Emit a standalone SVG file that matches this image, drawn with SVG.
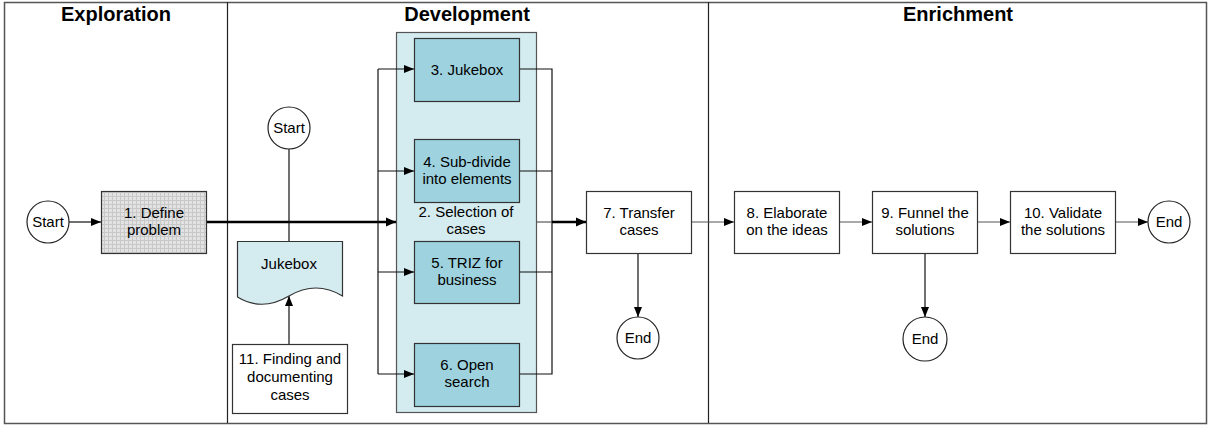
<svg xmlns="http://www.w3.org/2000/svg" width="1209" height="426" viewBox="0 0 1209 426">
<style>
text{font-family:"Liberation Sans",Arial,sans-serif;font-size:15px;fill:#000;text-anchor:middle}
.h{font-size:20px;font-weight:bold}
.box{fill:#fff;stroke:#333;stroke-width:1.2}
.in{fill:#9dd2de;stroke:#333;stroke-width:1.2}
.circ{fill:#fff;stroke:#222;stroke-width:1.2}
.c{fill:none;stroke:#111;stroke-width:1.2}
.g{fill:none;stroke:#555;stroke-width:1.2}
.t{fill:none;stroke:#000;stroke-width:2.6}
</style>
<defs>
<marker id="a" viewBox="0 0 10 10" refX="10" refY="5" markerWidth="10" markerHeight="10" markerUnits="userSpaceOnUse" orient="auto"><path d="M0,1 L10,5 L0,9 Z" fill="#000"/></marker>
<marker id="at" viewBox="0 0 10 10" refX="10" refY="5" markerWidth="10" markerHeight="10" markerUnits="userSpaceOnUse" orient="auto"><path d="M0,0.5 L10,5 L0,9.5 Z" fill="#000"/></marker>
<pattern id="grid" width="4" height="4" patternUnits="userSpaceOnUse"><rect width="4" height="4" fill="#e2e2e2"/><path d="M0,0.5 H4 M0.5,0 V4" stroke="#c8c8c8" stroke-width="1"/></pattern>
</defs>
<rect width="1209" height="426" fill="#fff"/>
<g id="lanes">
<rect x="4.5" y="2.5" width="1202" height="421" fill="none" stroke="#555" stroke-width="1.5"/>
<line x1="227.5" y1="2" x2="227.5" y2="423" stroke="#222" stroke-width="1.2"/>
<line x1="708.5" y1="2" x2="708.5" y2="423" stroke="#222" stroke-width="1.2"/>
<text class="h" x="116" y="21">Exploration</text>
<text class="h" x="467" y="21">Development</text>
<text class="h" x="958" y="21">Enrichment</text>
</g>
<g id="n2">
<rect x="396.5" y="32.5" width="140" height="380" fill="#d4ebf0" stroke="#555" stroke-width="1.2"/>
<text x="466" y="217">2. Selection of</text>
<text x="466" y="234">cases</text>
</g>
<g id="connectors">
<line class="c" x1="69" y1="222" x2="101" y2="222" marker-end="url(#a)"/>
<line class="t" x1="206" y1="222" x2="396" y2="222" marker-end="url(#at)"/>
<line class="c" x1="289" y1="149" x2="289" y2="241"/>
<line class="c" x1="289" y1="344" x2="289" y2="296" marker-end="url(#a)"/>
<path class="c" d="M378,69 V374"/>
<line class="c" x1="378" y1="69" x2="414" y2="69" marker-end="url(#a)"/>
<line class="c" x1="378" y1="171" x2="414" y2="171" marker-end="url(#a)"/>
<line class="c" x1="378" y1="272" x2="414" y2="272" marker-end="url(#a)"/>
<line class="c" x1="378" y1="374" x2="414" y2="374" marker-end="url(#a)"/>
<path class="c" d="M519,69 H552 V374 H519 M519,171 H552 M519,272 H552"/>
<line class="g" x1="536" y1="222" x2="552" y2="222"/>
<line class="t" x1="552" y1="222" x2="586" y2="222" marker-end="url(#at)"/>
<line class="c" x1="638" y1="253" x2="638" y2="317" marker-end="url(#a)"/>
<line class="g" x1="691" y1="222" x2="734" y2="222" marker-end="url(#a)"/>
<line class="g" x1="839" y1="222" x2="872" y2="222" marker-end="url(#a)"/>
<line class="g" x1="977" y1="222" x2="1010" y2="222" marker-end="url(#a)"/>
<line class="g" x1="1115" y1="222" x2="1148" y2="222" marker-end="url(#a)"/>
<line class="c" x1="925" y1="253" x2="925" y2="317" marker-end="url(#a)"/>
</g>
<g id="start1"><circle class="circ" cx="48" cy="222" r="21"/><text x="48" y="227">Start</text></g>
<g id="n1"><rect x="101.5" y="191.5" width="105" height="62" fill="url(#grid)" stroke="#333" stroke-width="1.2"/><text x="154" y="218">1. Define</text><text x="154" y="235">problem</text></g>
<g id="start2"><circle class="circ" cx="289" cy="128" r="21"/><text x="289" y="133">Start</text></g>
<g id="jukeboxdoc"><path d="M237.5,241.5 H342.5 V296 Q316,280 289,296 Q262,312 237.5,297 Z" fill="#d4ebf0" stroke="#333" stroke-width="1.2"/><text x="289" y="269">Jukebox</text></g>
<g id="n11"><rect class="box" x="232.5" y="344.5" width="115" height="69"/><text x="290" y="364">11. Finding and</text><text x="290" y="382">documenting</text><text x="290" y="400">cases</text></g>
<g id="n3"><rect class="in" x="414.5" y="38.5" width="105" height="63"/><text x="467" y="75">3. Jukebox</text></g>
<g id="n4"><rect class="in" x="414.5" y="139.5" width="105" height="63"/><text x="467" y="167">4. Sub-divide</text><text x="467" y="184">into elements</text></g>
<g id="n5"><rect class="in" x="414.5" y="241.5" width="105" height="62"/><text x="467" y="268">5. TRIZ for</text><text x="467" y="285">business</text></g>
<g id="n6"><rect class="in" x="414.5" y="343.5" width="105" height="63"/><text x="467" y="370">6. Open</text><text x="467" y="387">search</text></g>
<g id="n7"><rect class="box" x="586.5" y="191.5" width="105" height="62"/><text x="639" y="218">7. Transfer</text><text x="639" y="235">cases</text></g>
<g id="end7"><circle class="circ" cx="638" cy="338" r="21"/><text x="638" y="343">End</text></g>
<g id="n8"><rect class="box" x="734.5" y="191.5" width="105" height="62"/><text x="787" y="218">8. Elaborate</text><text x="787" y="235">on the ideas</text></g>
<g id="n9"><rect class="box" x="872.5" y="191.5" width="105" height="62"/><text x="925" y="218">9. Funnel the</text><text x="925" y="235">solutions</text></g>
<g id="end9"><circle class="circ" cx="925" cy="339" r="22"/><text x="925" y="344">End</text></g>
<g id="n10"><rect class="box" x="1010.5" y="191.5" width="105" height="62"/><text x="1063" y="218">10. Validate</text><text x="1063" y="235">the solutions</text></g>
<g id="end10"><circle class="circ" cx="1169" cy="222" r="21"/><text x="1169" y="227">End</text></g>
</svg>
